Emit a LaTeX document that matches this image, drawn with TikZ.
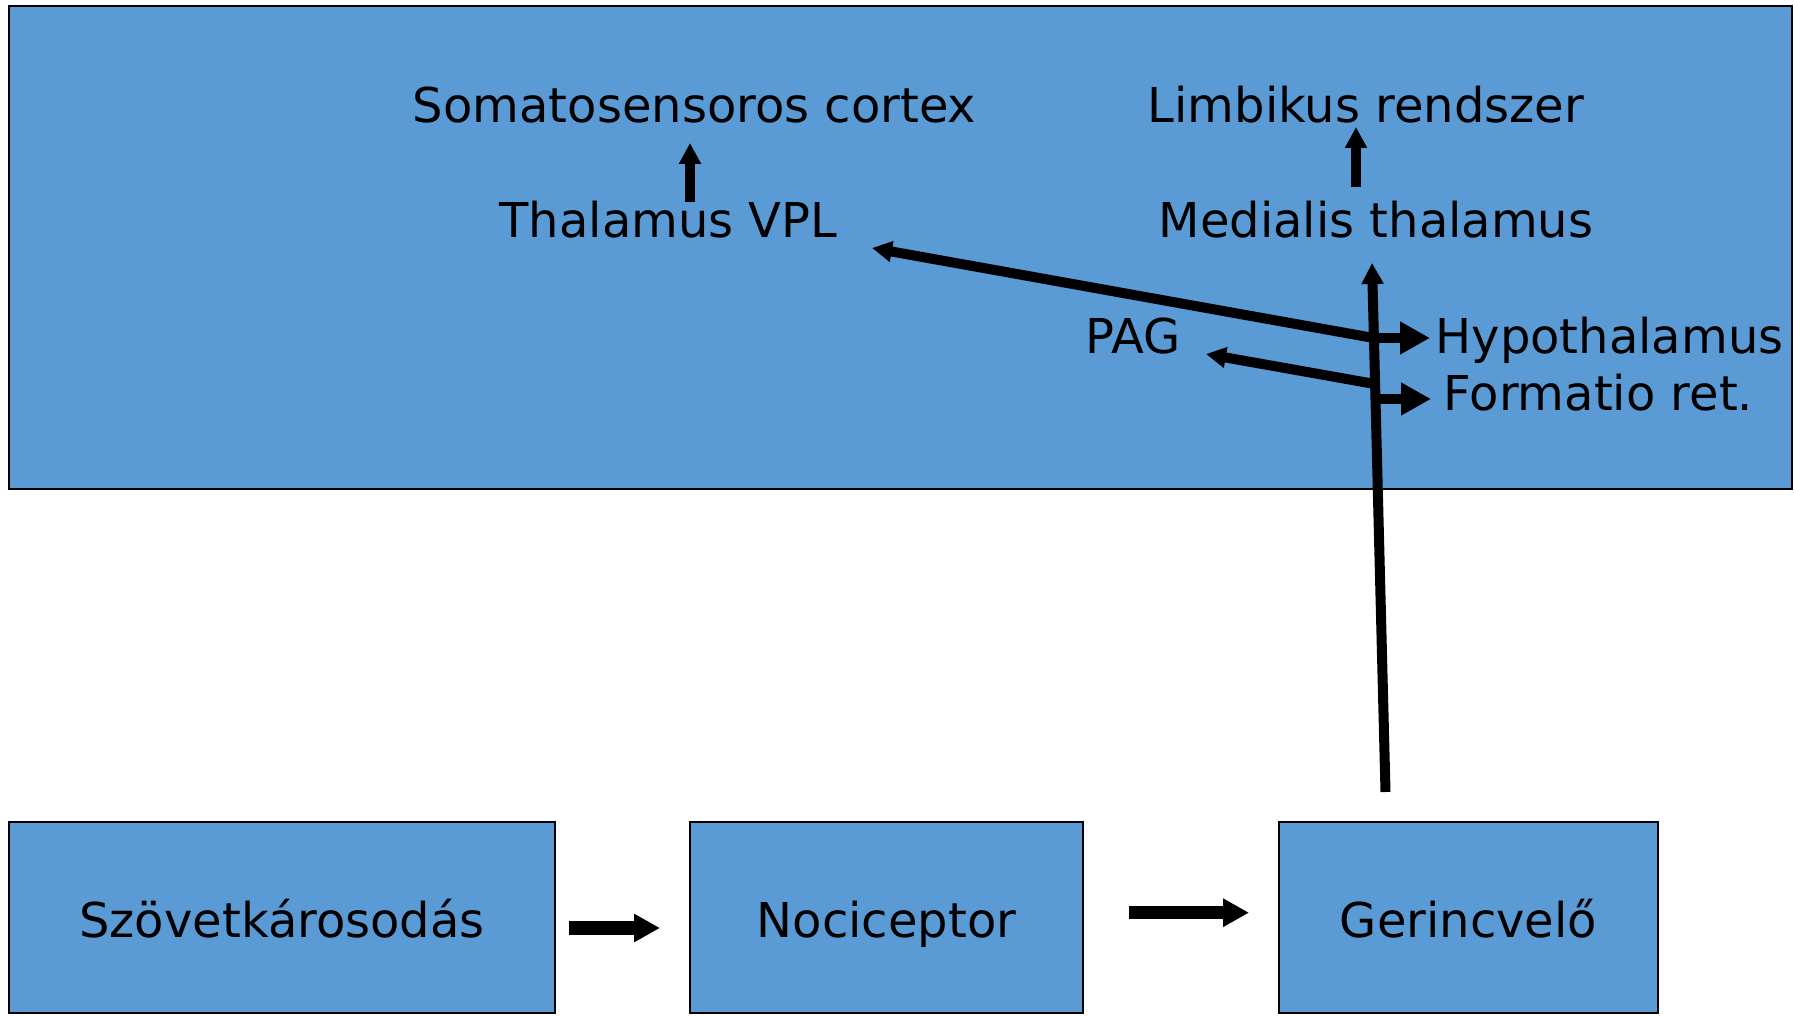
\documentclass[tikz,border=0pt]{standalone}
\usepackage{fontspec}
\setmainfont{DejaVu Sans}
\usetikzlibrary{arrows.meta}
\definecolor{boxblue}{RGB}{91,155,213}
\begin{document}
\begin{tikzpicture}[x=0.5pt,y=-0.5pt,
  lbl/.style={font=\fontsize{24pt}{28pt}\selectfont, inner sep=0pt, anchor=base},
  panel/.style={draw=black, line width=1pt, fill=boxblue},
  boxnode/.style={panel, font=\fontsize{24pt}{28pt}\selectfont, inner sep=0pt,
     text height=19.5pt, text depth=0pt, minimum height=95.5pt},
  thinarrow/.style={line width=5pt, -{Triangle[length=10.5pt,width=10.5pt]}},
  widearrow/.style={line width=5pt, -{Triangle[length=15pt,width=15.5pt]}},
  flowarrow/.style={line width=6.7pt, -{Triangle[length=13pt,width=13.4pt]}}]
\useasboundingbox (0,0) rectangle (1794,1016);
\fill[white] (0,0) rectangle (1794,1016);
% big panel
\draw[panel] (9,6) rectangle (1792,489);
% labels in the panel
\node[lbl] (somato) at (694.5,123) {Somatosensoros cortex};
\node[lbl] (limbic) at (1366,123) {Limbikus rendszer};
\node[lbl] (vpl) at (668.5,238) {Thalamus VPL};
\node[lbl] (medial) at (1376,238) {Medialis thalamus};
\node[lbl] (pag) at (1133,353) {PAG};
\node[lbl] (hypo) at (1609.5,353) {Hypothalamus};
\node[lbl] (form) at (1598.5,410) {Formatio ret.};
% bottom boxes
\node[boxnode, minimum width=273pt] (box1) at (282,917.5) {Szövetkárosodás};
\node[boxnode, minimum width=196.5pt] (box2) at (886.5,917.5) {Nociceptor};
\node[boxnode, minimum width=189.5pt] (box3) at (1468.5,917.5) {Gerincvelő};
% connector points
\coordinate (s1) at (690,202);
\coordinate (s2) at (690,143);
\coordinate (l1) at (1356,187);
\coordinate (l2) at (1356,127);
\coordinate (gstart) at (1385.5,792);
\coordinate (gtop) at (1372,263);
\coordinate (jh) at (1373.7,338);
\coordinate (jp) at (1374.7,384);
\coordinate (jf) at (1375.2,399);
\coordinate (vpltip) at (872,248);
\coordinate (pagtip) at (1206,354);
\coordinate (hypotip) at (1430,338);
\coordinate (formtip) at (1431,399);
\coordinate (b1a) at (569,928);
\coordinate (b1b) at (660,928);
\coordinate (b2a) at (1129,912.7);
\coordinate (b2b) at (1249,912.7);
% connectors
\draw[thinarrow] (s1) -- (s2);
\draw[thinarrow] (l1) -- (l2);
\draw[thinarrow, -{Triangle[length=10pt,width=10pt]}] (jh) -- (vpltip);
\draw[thinarrow, -{Triangle[length=10pt,width=10pt]}] (jp) -- (pagtip);
\draw[widearrow] (jh) -- (hypotip);
\draw[widearrow] (jf) -- (formtip);
\draw[thinarrow] (gstart) -- (gtop);
\draw[flowarrow] (b1a) -- (b1b);
\draw[flowarrow] (b2a) -- (b2b);
\end{tikzpicture}
\end{document}
